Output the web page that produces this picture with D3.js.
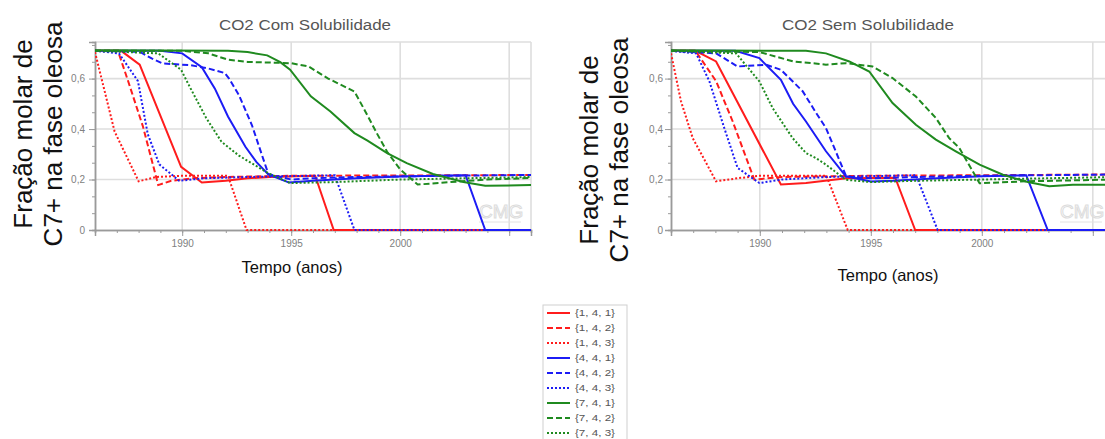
<!DOCTYPE html>
<html>
<head>
<meta charset="utf-8">
<script src="https://cdn.jsdelivr.net/npm/d3@7"></script>
<style>
	body { margin: 0; background: #fff; }
	svg { display: block; font-family: Arial, "Liberation Sans", sans-serif; }
</style>
</head>
<body>
<svg id="chart" width="1105" height="439"></svg>
<script>
var seriesNames = ['{1, 4, 1}', '{1, 4, 2}', '{1, 4, 3}', '{4, 4, 1}', '{4, 4, 2}', '{4, 4, 3}', '{7, 4, 1}', '{7, 4, 2}', '{7, 4, 3}'];
var seriesColors = ['#ff1c1c', '#ff1c1c', '#ff1c1c', '#1c1cf5', '#1c1cf5', '#1c1cf5', '#1f8a1f', '#1f8a1f', '#1f8a1f'];
var seriesDashes = [null, '6,3', '2,2', null, '6,3', '2,2', null, '6,3', '2,2'];

var xTickValues = [1990, 1995, 2000];
var xGridValues = [1990, 1995, 2000, 2005];
var yTickValues = [0, 0.2, 0.4, 0.6];

// CO2 Com Solubilidade, [ano, fracao]
var com141 = [[1986, 0.71], [1987.2, 0.71], [1988.05, 0.655], [1989.95, 0.25], [1990.9, 0.188], [1992, 0.195], [1993, 0.205], [1994, 0.21], [1996.1, 0.215], [1996.95, 0], [2006, 0]];
var com142 = [[1986, 0.71], [1987.05, 0.71], [1987.5, 0.595], [1988.2, 0.41], [1988.9, 0.178], [1989.5, 0.195], [1990.5, 0.205], [1992, 0.21], [1995, 0.215], [2000, 0.216], [2006, 0.218]];
var com143 = [[1986, 0.705], [1986.9, 0.39], [1988.0, 0.193], [1988.8, 0.21], [1990, 0.215], [1992.1, 0.215], [1992.95, 0], [2006, 0]];
var com441 = [[1986, 0.71], [1989, 0.71], [1990, 0.70], [1990.9, 0.645], [1991.5, 0.56], [1992.1, 0.45], [1992.9, 0.33], [1993.4, 0.27], [1993.95, 0.22], [1994.9, 0.188], [1996, 0.195], [1998, 0.205], [2000, 0.212], [2003, 0.217], [2003.9, 0], [2006, 0]];
var com442 = [[1986, 0.71], [1988.05, 0.706], [1988.6, 0.68], [1989.1, 0.66], [1990.4, 0.653], [1991.2, 0.64], [1991.95, 0.622], [1992.15, 0.60], [1992.6, 0.535], [1993.2, 0.415], [1993.95, 0.222], [1995, 0.2], [1996, 0.205], [1998, 0.21], [2002, 0.215], [2006, 0.218]];
var com443 = [[1986, 0.71], [1987.1, 0.70], [1987.97, 0.59], [1988.42, 0.38], [1988.95, 0.26], [1989.86, 0.195], [1991, 0.205], [1993, 0.21], [1997, 0.217], [1997.9, 0], [2006, 0]];
var com741 = [[1986, 0.712], [1992.1, 0.71], [1993, 0.705], [1993.9, 0.692], [1994.5, 0.665], [1994.95, 0.635], [1995.9, 0.53], [1996.8, 0.47], [1997.9, 0.384], [1998.5, 0.354], [1999.4, 0.305], [2000.3, 0.265], [2001.5, 0.222], [2002.9, 0.19], [2003.9, 0.175], [2006, 0.178]];
var com742 = [[1986, 0.71], [1990, 0.71], [1991.2, 0.70], [1992.1, 0.675], [1993, 0.666], [1995, 0.661], [1995.8, 0.648], [1996.7, 0.60], [1997.9, 0.549], [1998.4, 0.47], [1998.95, 0.38], [1999.4, 0.31], [2000, 0.24], [2000.8, 0.18], [2002.3, 0.19], [2004, 0.2], [2006, 0.206]];
var com743 = [[1986, 0.71], [1988.9, 0.70], [1989.95, 0.635], [1990.3, 0.575], [1991.1, 0.444], [1991.8, 0.35], [1992.6, 0.295], [1993.95, 0.225], [1994.95, 0.186], [1997, 0.19], [2000, 0.2], [2003, 0.205], [2006, 0.21]];

// CO2 Sem Solubilidade
var sem141 = [[1986, 0.71], [1987.1, 0.71], [1988.03, 0.668], [1990.95, 0.18], [1992.08, 0.186], [1993.9, 0.205], [1996.1, 0.207], [1997.0, 0], [2006, 0]];
var sem142 = [[1986, 0.71], [1987.1, 0.71], [1988.03, 0.59], [1988.78, 0.43], [1989.75, 0.2], [1991, 0.21], [1995, 0.215], [2000, 0.217], [2006, 0.22]];
var sem143 = [[1986, 0.70], [1986.45, 0.51], [1986.98, 0.364], [1988.03, 0.193], [1989, 0.205], [1990, 0.215], [1993, 0.215], [1993.96, 0], [2006, 0]];
var sem441 = [[1986, 0.71], [1988.9, 0.71], [1989.98, 0.681], [1990.95, 0.595], [1991.5, 0.50], [1992.08, 0.43], [1992.98, 0.312], [1993.88, 0.213], [1995, 0.192], [1996, 0.195], [1998, 0.205], [2000, 0.213], [2002, 0.217], [2002.97, 0], [2006, 0]];
var sem442 = [[1986, 0.71], [1988.03, 0.70], [1989.0, 0.648], [1990.28, 0.655], [1990.95, 0.635], [1991.93, 0.55], [1992.53, 0.465], [1992.98, 0.404], [1993.9, 0.211], [1995, 0.205], [1997, 0.21], [2000, 0.215], [2006, 0.22]];
var sem443 = [[1986, 0.71], [1987.13, 0.70], [1987.73, 0.589], [1988.4, 0.404], [1989.0, 0.246], [1989.98, 0.186], [1991, 0.2], [1993, 0.21], [1997.04, 0.217], [1998.01, 0], [2006, 0]];
var sem741 = [[1986, 0.712], [1992.08, 0.71], [1992.98, 0.70], [1994.03, 0.668], [1994.93, 0.628], [1995.98, 0.503], [1997.03, 0.417], [1997.93, 0.358], [1998.83, 0.312], [1999.9, 0.259], [2000.95, 0.219], [2002.07, 0.19], [2003.04, 0.173], [2004.1, 0.179], [2006, 0.179]];
var sem742 = [[1986, 0.71], [1990, 0.705], [1991.5, 0.668], [1992.5, 0.66], [1992.98, 0.655], [1993.88, 0.661], [1995.08, 0.648], [1995.98, 0.602], [1997.03, 0.529], [1997.93, 0.444], [1998.53, 0.364], [1998.99, 0.325], [1999.9, 0.185], [2002, 0.193], [2006, 0.2]];
var sem743 = [[1986, 0.71], [1988.93, 0.70], [1989.98, 0.589], [1990.58, 0.483], [1991.48, 0.364], [1992.08, 0.305], [1992.53, 0.285], [1992.98, 0.259], [1993.88, 0.199], [1995, 0.19], [1997, 0.195], [2000, 0.2], [2003, 0.205], [2006, 0.21]];

var comSeries = [com141, com142, com143, com441, com442, com443, com741, com742, com743];
var semSeries = [sem141, sem142, sem143, sem441, sem442, sem443, sem741, sem742, sem743];

var svg = d3.select('#chart');

var Panel = function (params) {
	var scope = this;

	scope.svg = params.svg;
	scope.id = params.id;
	scope.top = 42;
	scope.bottom = 230;

	scope.x = d3.scaleLinear().domain([1986, 2006]).range([params.left, params.right]);
	scope.y = d3.scaleLinear().domain([0, 0.745]).range([scope.bottom, scope.top]);

	scope.draw = function () {
		var x = scope.x,
			y = scope.y,
			g = scope.svg.append('g'),
			line;

		scope.svg.append('clipPath')
			.attr('id', 'clip-' + scope.id)
			.append('rect')
			.attr('x', x(1986))
			.attr('y', scope.top - 2)
			.attr('width', x(2006) - x(1986))
			.attr('height', scope.bottom - scope.top + 3);

		// grid
		g.selectAll('.hgrid')
			.data(yTickValues.filter(function (d) { return d > 0; }).concat([0.745]))
			.enter().append('line')
			.attr('x1', x(1986))
			.attr('x2', x(2006))
			.attr('y1', function (d) { return y(d); })
			.attr('y2', function (d) { return y(d); })
			.style('stroke', '#dedede')
			.style('stroke-width', 1.6);

		g.selectAll('.vgrid')
			.data(xGridValues.concat([2006]))
			.enter().append('line')
			.attr('x1', function (d) { return x(d); })
			.attr('x2', function (d) { return x(d); })
			.attr('y1', y(0.745))
			.attr('y2', y(0))
			.style('stroke', '#dedede')
			.style('stroke-width', 1.6);

		// axes, minor then major ticks
		g.append('g')
			.attr('transform', 'translate(0,' + scope.bottom + ')')
			.call(d3.axisBottom(x).tickValues(d3.range(1986, 2006.5, 1)).tickSize(3).tickFormat(''));
		g.append('g')
			.attr('transform', 'translate(0,' + scope.bottom + ')')
			.call(d3.axisBottom(x).tickValues(xGridValues).tickSize(6).tickPadding(4)
				.tickFormat(function (d) { return xTickValues.indexOf(d) >= 0 ? d : ''; }));

		g.append('g')
			.attr('transform', 'translate(' + x(1986) + ',0)')
			.call(d3.axisLeft(y).tickValues(d3.range(0, 0.74, 0.2 / 3)).tickSize(3).tickFormat(''));
		g.append('g')
			.attr('transform', 'translate(' + x(1986) + ',0)')
			.call(d3.axisLeft(y).tickValues(yTickValues).tickSize(6).tickPadding(params.labelPad)
				.tickFormat(function (d) { return d === 0 ? '0' : d3.format('.1f')(d).replace('.', ','); }));

		g.selectAll('.domain').style('stroke', '#9a9a9a').style('stroke-width', 1.5);
		g.selectAll('.tick line').style('stroke', '#9a9a9a');
		g.selectAll('.tick text')
			.style('fill', '#808080')
			.style('font-size', '10px');

		// watermark
		g.append('text')
			.attr('x', params.markX)
			.attr('y', 218)
			.text('CMG')
			.style('font-size', '19px')
			.style('fill', 'none')
			.style('stroke', '#dcdcdc')
			.style('stroke-width', 1);
		g.append('line')
			.attr('x1', params.markX)
			.attr('x2', params.markX + 42)
			.attr('y1', 222)
			.attr('y2', 222)
			.style('stroke', '#e2e2e2');

		line = d3.line()
			.x(function (d) { return x(d[0]); })
			.y(function (d) { return y(d[1]); });

		g.append('g')
			.attr('clip-path', 'url(#clip-' + scope.id + ')')
			.selectAll('path')
			.data(params.series)
			.enter().append('path')
			.attr('d', line)
			.style('fill', 'none')
			.style('stroke', function (d, i) { return seriesColors[i]; })
			.style('stroke-width', 2)
			.style('stroke-dasharray', function (d, i) { return seriesDashes[i]; });

		// titles
		scope.svg.append('text')
			.attr('x', params.titleX)
			.attr('y', 30)
			.attr('text-anchor', 'middle')
			.attr('textLength', 172)
			.attr('lengthAdjust', 'spacingAndGlyphs')
			.text(params.title)
			.style('font-size', '14px')
			.style('fill', '#555');

		scope.svg.append('text')
			.attr('x', params.xLabelX)
			.attr('y', params.xLabelY)
			.attr('text-anchor', 'middle')
			.text('Tempo (anos)')
			.style('font-size', '16.5px')
			.style('fill', '#111');

		scope.svg.append('text')
			.attr('transform', 'translate(' + params.yLabelX + ',' + params.yLabelY + ') rotate(-90)')
			.attr('text-anchor', 'middle')
			.style('font-size', '26px')
			.style('fill', '#111')
			.selectAll('tspan')
			.data(['Fração molar de', 'C7+ na fase oleosa'])
			.enter().append('tspan')
			.attr('x', 0)
			.attr('y', function (d, i) { return i * 29.5; })
			.text(function (d) { return d; });
	};

	scope.draw();
};

new Panel({
	svg: svg, id: 'com', series: comSeries, title: 'CO2 Com Solubilidade',
	left: 95, right: 531, labelPad: 4, markX: 479,
	titleX: 305, xLabelX: 292, xLabelY: 273, yLabelX: 32, yLabelY: 134
});

new Panel({
	svg: svg, id: 'sem', series: semSeries, title: 'CO2 Sem Solubilidade',
	left: 671, right: 1115, labelPad: 2, markX: 1060,
	titleX: 868, xLabelX: 888, xLabelY: 281, yLabelX: 598, yLabelY: 150
});

// legend
var legend = svg.append('g').attr('transform', 'translate(543,305)');

legend.append('rect')
	.attr('x', 0)
	.attr('y', 0)
	.attr('width', 84)
	.attr('height', 140)
	.style('fill', '#fff')
	.style('stroke', '#cfcfcf');

var legendItem = legend.selectAll('.item')
	.data(seriesNames)
	.enter().append('g')
	.attr('transform', function (d, i) { return 'translate(0,' + (8 + i * 15) + ')'; });

legendItem.append('line')
	.attr('x1', 4)
	.attr('x2', 27)
	.style('stroke', function (d, i) { return seriesColors[i]; })
	.style('stroke-width', 2)
	.style('stroke-dasharray', function (d, i) { return seriesDashes[i]; });

legendItem.append('text')
	.attr('x', 32)
	.attr('dy', '0.32em')
	.attr('textLength', 40)
	.attr('lengthAdjust', 'spacingAndGlyphs')
	.text(function (d) { return d; })
	.style('font-size', '9px')
	.style('fill', '#555');
</script>
</body>
</html>
